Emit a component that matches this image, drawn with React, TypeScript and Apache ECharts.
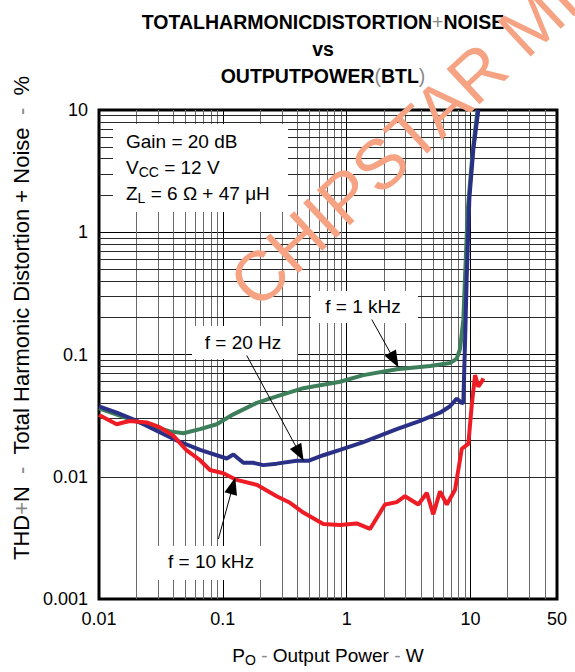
import React, { useEffect, useRef } from "react";
import * as echarts from "echarts";

const FONT = "'Liberation Sans', Arial, Helvetica, sans-serif";

// Axis ranges / tick values
const xRange = [0.01, 50];
const yRange = [0.001, 10];
const xMinorGrid = [
  0.02, 0.03, 0.04, 0.05, 0.06, 0.07, 0.08, 0.09,
  0.2, 0.3, 0.4, 0.5, 0.6, 0.7, 0.8, 0.9,
  2, 3, 4, 5, 6, 7, 8, 9,
  20, 30, 40,
];
const yMinorGrid = [
  0.002, 0.003, 0.004, 0.005, 0.006, 0.007, 0.008, 0.009,
  0.02, 0.03, 0.04, 0.05, 0.06, 0.07, 0.08, 0.09,
  0.2, 0.3, 0.4, 0.5, 0.6, 0.7, 0.8, 0.9,
  2, 3, 4, 5, 6, 7, 8, 9,
];

// f = 20 Hz  [Po (W), THD+N (%)]
const f20Hz = [
  [0.01, 0.0377], [0.0139, 0.0334], [0.0202, 0.0286], [0.0292, 0.0238],
  [0.0424, 0.0198], [0.0655, 0.0166], [0.1075, 0.0141], [0.1216, 0.0152],
  [0.1465, 0.013], [0.1763, 0.013], [0.2123, 0.01245], [0.2725, 0.0128],
  [0.3954, 0.0135], [0.49, 0.0135], [0.648, 0.015], [0.884, 0.0166],
  [1.365, 0.0192], [2.54, 0.0245], [3.92, 0.0286], [5.68, 0.0334],
  [6.84, 0.0377], [7.75, 0.0435], [8.5, 0.0402], [8.76, 0.04],
  [9.04, 0.1256], [9.33, 0.431], [9.8, 1.89], [10.55, 4.77], [11.58, 10],
];

// f = 1 kHz
const f1kHz = [
  [0.01, 0.0362], [0.0202, 0.0283], [0.0292, 0.0253], [0.0375, 0.0235],
  [0.048, 0.0227], [0.0655, 0.0245], [0.0893, 0.0269], [0.1216, 0.0324],
  [0.188, 0.0402], [0.2725, 0.0454], [0.4467, 0.053], [0.884, 0.0599],
  [1.365, 0.0678], [2.54, 0.0758], [4.72, 0.0805], [6.84, 0.0851],
  [7.75, 0.0924], [8.24, 0.111], [8.76, 0.1935], [9.04, 0.431],
  [9.5, 1.5], [10.4, 4.5], [11.4, 10],
];

// f = 10 kHz
const f10kHz = [
  [0.01, 0.032], [0.0139, 0.0269], [0.0157, 0.0278], [0.0178, 0.0286],
  [0.0243, 0.0278], [0.0311, 0.0253], [0.0398, 0.0217], [0.0511, 0.0164],
  [0.0655, 0.01365], [0.0788, 0.01135], [0.101, 0.01067], [0.1294, 0.00942],
  [0.188, 0.00859], [0.2725, 0.00693], [0.349, 0.00612], [0.4467, 0.00509],
  [0.648, 0.0041], [0.884, 0.00403], [1.207, 0.00415], [1.545, 0.00374],
  [2.04, 0.00593], [2.54, 0.0062], [2.96, 0.00693], [3.79, 0.00593],
  [4.44, 0.00737], [5.01, 0.00493], [5.68, 0.0076], [6.44, 0.00593],
  [7.51, 0.00783], [8.51, 0.01694], [9.62, 0.0186], [10.25, 0.0389],
  [10.9, 0.0678], [11.58, 0.0546], [12.34, 0.0599], [12.7, 0.0638],
];

// Annotation arrows: [from, to] in data coordinates
const arrow1kHz = [[1.595, 0.1935], [2.43, 0.09]];
const arrow20Hz = [[0.156, 0.0982], [0.4167, 0.01556]];
const arrow10kHz = [[0.092, 0.00309], [0.1208, 0.00844]];

const fmt = (v: number) => String(parseFloat(Number(v).toPrecision(4)));

export default function App() {
  const ref = useRef<HTMLDivElement>(null);

  useEffect(() => {
    if (!ref.current) return;
    const chart = echarts.init(ref.current, undefined, { renderer: "svg" });

    const subRich = {
      sub: { fontSize: 14, lineHeight: 12, verticalAlign: "bottom", fontFamily: FONT, fill: "#000" },
    };
    const noteStyle = (text: string, extra: any = {}) => ({
      text,
      fontSize: 19,
      fontFamily: FONT,
      fill: "#000",
      lineHeight: 24,
      verticalAlign: "middle",
      ...extra,
    });

    const arrowLine = (pts: number[][]) => [{ coord: pts[0] }, { coord: pts[1] }];

    const option: any = {
      animation: false,
      textStyle: { fontFamily: FONT },
      title: {
        text: "TOTALHARMONICDISTORTION{p|+}NOISE\nvs\nOUTPUTPOWER{p|(}BTL{p|)}",
        left: 323,
        top: 8,
        padding: 0,
        textAlign: "center",
        textStyle: {
          fontSize: 19.5,
          fontWeight: "bold",
          color: "#000",
          fontFamily: FONT,
          lineHeight: 27,
          rich: {
            p: { fontSize: 19.5, fontWeight: "normal", color: "#888", lineHeight: 27, fontFamily: FONT },
          },
        },
      },
      grid: {
        left: 99,
        top: 110,
        width: 458,
        height: 498,
        show: true,
        borderColor: "#000",
        borderWidth: 3,
        backgroundColor: "transparent",
      },
      xAxis: {
        type: "log",
        logBase: 10,
        min: xRange[0],
        max: xRange[1],
        axisLine: { show: false },
        axisTick: { show: false },
        axisLabel: { fontSize: 18, color: "#000", margin: 11, fontFamily: FONT, formatter: fmt },
        splitLine: { show: true, lineStyle: { color: "#000", width: 1 } },
        name: "P{s|O} {g|-} Output Power {g|-} W",
        nameLocation: "middle",
        nameGap: 44,
        nameTextStyle: {
          fontSize: 19,
          color: "#000",
          fontFamily: FONT,
          lineHeight: 24,
          rich: {
            s: { fontSize: 14, lineHeight: 12, verticalAlign: "bottom", color: "#000", fontFamily: FONT },
            g: { fontSize: 19, color: "#888", lineHeight: 24, fontFamily: FONT },
          },
        },
      },
      yAxis: {
        type: "log",
        logBase: 10,
        min: yRange[0],
        max: yRange[1],
        axisLine: { show: false },
        axisTick: { show: false },
        axisLabel: { fontSize: 18, color: "#000", margin: 11, fontFamily: FONT, formatter: fmt },
        splitLine: { show: true, lineStyle: { color: "#000", width: 1 } },
      },
      series: [
        {
          name: "grid",
          type: "line",
          data: [],
          z: 1,
          silent: true,
          markLine: {
            z: 1,
            silent: true,
            animation: false,
            symbol: ["none", "none"],
            label: { show: false },
            emphasis: { disabled: true },
            data: [
              ...xMinorGrid.map((v) => ({ xAxis: v, lineStyle: { color: "#6a6a6a", width: 1, type: "solid" } })),
              ...yMinorGrid.map((v) => ({ yAxis: v, lineStyle: { color: "#2a2a2a", width: 1, type: "solid" } })),
            ],
          },
        },
        {
          name: "f = 1 kHz",
          type: "line",
          data: f1kHz,
          showSymbol: false,
          z: 3,
          lineStyle: { color: "#3d7f5a", width: 4 },
        },
        {
          name: "f = 20 Hz",
          type: "line",
          data: f20Hz,
          showSymbol: false,
          z: 3,
          lineStyle: { color: "#2b3087", width: 4 },
        },
        {
          name: "f = 10 kHz",
          type: "line",
          data: f10kHz,
          showSymbol: false,
          z: 3,
          lineStyle: { color: "#ee1c25", width: 4 },
        },
        {
          name: "arrows",
          type: "line",
          data: [],
          z: 7,
          silent: true,
          markLine: {
            z: 7,
            silent: true,
            animation: false,
            symbol: ["none", "triangle"],
            symbolSize: [13, 17],
            label: { show: false },
            emphasis: { disabled: true },
            lineStyle: { color: "#000", width: 1, type: "solid" },
            itemStyle: { color: "#000" },
            data: [arrowLine(arrow1kHz), arrowLine(arrow20Hz), arrowLine(arrow10kHz)],
          },
        },
      ],
      graphic: [
        { type: "rect", z: 5, shape: { x: 113, y: 124, width: 175, height: 88 }, style: { fill: "#fff" } },
        { type: "text", z: 6, x: 126, y: 141, style: noteStyle("Gain = 20 dB") },
        { type: "text", z: 6, x: 126, y: 167, style: noteStyle("V{sub|CC} = 12 V", { rich: subRich }) },
        { type: "text", z: 6, x: 126, y: 193, style: noteStyle("Z{sub|L} = 6 Ω + 47 μH", { rich: subRich }) },

        { type: "rect", z: 5, shape: { x: 311, y: 291, width: 107, height: 32 }, style: { fill: "#fff" } },
        { type: "text", z: 6, x: 363, y: 306, style: noteStyle("f = 1 kHz", { align: "center" }) },

        { type: "rect", z: 5, shape: { x: 192, y: 326, width: 105, height: 33 }, style: { fill: "#fff" } },
        { type: "text", z: 6, x: 243, y: 342, style: noteStyle("f = 20 Hz", { align: "center" }) },

        { type: "rect", z: 5, shape: { x: 156, y: 546, width: 117, height: 34 }, style: { fill: "#fff" } },
        { type: "text", z: 6, x: 211, y: 561, style: noteStyle("f = 10 kHz", { align: "center" }) },

        {
          type: "text",
          z: 6,
          x: 21,
          y: 318,
          rotation: Math.PI / 2,
          style: {
            text: "THD{g|+}N  {g|-}  Total Harmonic Distortion + Noise  {g|-}  %",
            fontSize: 22,
            fontFamily: FONT,
            fill: "#000",
            align: "center",
            verticalAlign: "middle",
            rich: { g: { fontSize: 22, fontFamily: FONT, fill: "#888" } },
          },
        },

        {
          type: "text",
          z: 8,
          x: 241,
          y: 294,
          rotation: (43 * Math.PI) / 180,
          silent: true,
          style: {
            text: "CHIPSTAR MICRO",
            fontSize: 70,
            fontFamily: FONT,
            fill: "#f6a384",
            align: "left",
            verticalAlign: "middle",
          },
        },
      ],
    };

    chart.setOption(option);
    return () => chart.dispose();
  }, []);

  return (
    <div
      ref={ref}
      style={{ position: "fixed", left: 0, top: 0, width: 575, height: 672, background: "#fff" }}
    />
  );
}
